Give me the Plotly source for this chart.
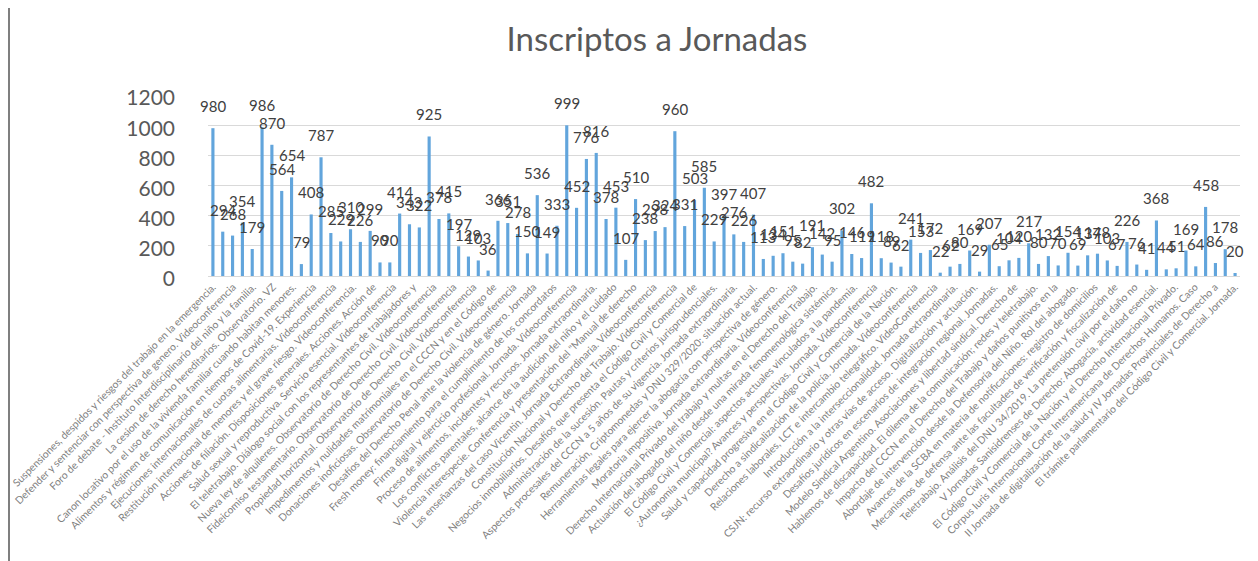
import plotly.graph_objects as go

# Inscriptos por jornada (en orden)
values = [
    980, 294, 268, 354, 179, 986, 870, 564, 654, 79,
    408, 787, 285, 229, 310, 226, 299, 90, 90, 414,
    343, 322, 925, 378, 415, 197, 129, 103, 36, 366,
    351, 278, 150, 536, 149, 333, 999, 452, 776, 816,
    378, 453, 107, 510, 238, 298, 324, 960, 331, 503,
    585, 229, 397, 276, 226, 407, 113, 134, 151, 95,
    82, 191, 142, 95, 302, 146, 119, 482, 118, 89,
    62, 241, 153, 172, 22, 62, 80, 169, 29, 207,
    65, 104, 120, 217, 80, 132, 70, 154, 69, 137,
    148, 103, 67, 226, 76, 41, 368, 44, 51, 169,
    64, 458, 86, 178, 20,
]

# Etiquetas visibles del eje de categorías (repartidas de la primera a la última jornada)
tick_labels = [
    "Suspensiones, despidos y riesgos del trabajo en la emergencia.",
    "Defender y sentenciar con perspectiva de genero. Videoconferencia",
    "Foro de debate - Instituto Interdisciplinario del niño y la familia.",
    "La cesion de derecho hereditarios. Observatorio. VZ",
    "Canon locativo por el uso de la vivienda familiar cuando habitan menores.",
    "Alimentos y régimen de comunicación en tiempos de Covid-19. Experiencia",
    "Ejecuciones internacionales de cuotas alimentarias. Videoconferencia",
    "Restitución internacional de menores y el grave riesgo. Videoconferencia.",
    "Acciones de filiación. Disposiciones generales. Acciones. Acción de",
    "Salud sexual y reproductiva. Servicio esencial. Videoconferencia",
    "El teletrabajo. Diálogo social con los representantes de trabajadores y",
    "Nueva ley de alquileres. Observatorio de Derecho Civil. Videoconferencia",
    "Fideicomiso testamentario. Observatorio de Derecho Civil. Videoconferencia",
    "Propiedad horizontal. Observatorio de Derecho Civil. Videoconferencia",
    "Impedimentos y nulidades matrimoniales en el CCCN y en el Código de",
    "Donaciones inoficiosas. Observatorio de Derecho Civil. Videoconferencia",
    "Desafíos del Derecho Penal ante la violencia de género. Jornada",
    "Fresh money: financiamiento para el cumplimiento de los concordatos",
    "Firma digital y ejercicio profesional. Jornada. Videoconferencia",
    "Proceso de alimentos, incidentes y recursos. Jornada extraordinaria.",
    "Los conflictos parentales, alcance de la audición del niño y el cuidado",
    "Violencia interespecie. Conferencia y presentación del \"Manual de derecho",
    "Las enseñanzas del caso Vicentin. Jornada Extraordinaria. Videoconferencia",
    "Constitución Nacional y Derecho del Trabajo. Videoconferencia",
    "Negocios inmobiliarios. Desafíos que presenta el Código Civil y Comercial de",
    "Administración de la sucesión. Pautas y criterios jurisprudenciales.",
    "Aspectos procesales del CCCN a 5 años de su vigencia. Jornada extraordinaria.",
    "Remuneración, Criptomonedas y DNU 329/2020: situación actual.",
    "Herramientas legales para ejercer la abogacía con perspectiva de género.",
    "Moratoria impositiva. Jornada extraordinaria. Videoconferencia",
    "Derecho Internacional Privado del trabajo y multas en el Derecho del Trabajo.",
    "Actuación del abogado del niño desde una mirada fenomenológica sistémica.",
    "El Código Civil y Comercial: aspectos actuales vinculados a la pandemia.",
    "¿Autonomía municipal? Avances y perspectivas. Jornada. Videoconferencia",
    "Salud y capacidad progresiva en el Código Civil y Comercial de la Nación.",
    "Derecho a sindicalización de la policía. Jornada. Videoconferencia",
    "Relaciones laborales, LCT e intercambio telegráfico. VideoConferencia",
    "Introducción a la interseccionalidad. Jornada extraordinaria.",
    "CSJN: recurso extraordinario y otras vías de acceso. Digitalización y actuación.",
    "Desafíos jurídicos en escenarios de integración regional. Jornadas.",
    "Modelo Sindical Argentino. Asociaciones y libertad sindical. Derecho de",
    "Hablemos de discapacidad. El dilema de la comunicación; redes y teletrabajo.",
    "Impacto del CCCN en el Derecho del Trabajo y daños punitivos en la",
    "Abordaje de intervención desde la Defensoría del Niño. Rol del abogado.",
    "Avances de la SCBA en materia de notificaciones: registro de domicilios",
    "Mecanismos de defensa ante las facultades de verificación y fiscalización de",
    "Teletrabajo. Análisis del DNU 34/2019. La pretensión civil por el daño no",
    "V Jornadas Sanisidrenses de Derecho: Abogacía, actividad esencial.",
    "El Código Civil y Comercial de la Nación y el Derecho Internacional Privado.",
    "Corpus Iuris Internacional Corte Interamericana de Derechos Humanos. Caso",
    "II Jornada de digitalización de la salud y IV Jornadas Provinciales de Derecho a",
    "El trámite parlamentario del Código Civil y Comercial. Jornada.",
]

y_ticks = [0, 200, 400, 600, 800, 1000, 1200]

n = len(values)
x = list(range(1, n + 1))
# las etiquetas visibles cubren de la primera a la última barra
step = (n - 1) / (len(tick_labels) - 1)
tickvals = [1 + i * step for i in range(len(tick_labels))]

# la página agrega 8 px de margen; la figura se dimensiona para compensarlo
W, H = 1250, 553
ML, MR, MT, MB = 200, 18, 87, 285

fig = go.Figure(
    go.Bar(
        x=x,
        y=values,
        width=0.32,
        marker=dict(color="#62A5DC", line=dict(width=0)),
        hoverinfo="x+y",
    )
)

# Etiquetas de datos sobre cada barra
for xi, v in zip(x, values):
    fig.add_annotation(
        x=xi, y=v, text=str(v), showarrow=False,
        xanchor="center", yanchor="bottom", yshift=11,
        font=dict(family="Lato", size=15, color="#404040"),
    )

pw = W - ML - MR
ph = H - MT - MB


def px_x(p):
    return (p - ML) / pw


def px_y(p):
    return 1 - (p - MT) / ph


fig.update_layout(
    width=W,
    height=H,
    autosize=False,
    margin=dict(l=ML, r=MR, t=MT, b=MB, pad=0),
    paper_bgcolor="white",
    plot_bgcolor="white",
    showlegend=False,
    title=dict(
        text="Inscriptos a Jornadas",
        x=649 / W,
        xanchor="center",
        xref="container",
        y=1 - 31 / H,
        yanchor="middle",
        yref="container",
        font=dict(family="Lato", size=33, color="#595959"),
    ),
    xaxis=dict(
        range=[0.5, n + 0.5],
        tickmode="array",
        tickvals=tickvals,
        ticktext=tick_labels,
        tickangle=-45,
        tickfont=dict(family="Lato", size=10.4, color="#7F7F7F"),
        ticklabeloverflow="allow",
        showgrid=False,
        showline=True,
        linecolor="#D9D9D9",
        linewidth=1,
        ticks="",
        automargin=False,
        zeroline=False,
    ),
    yaxis=dict(
        range=[0, 1200],
        tickmode="array",
        tickvals=y_ticks,
        ticktext=[str(v) for v in y_ticks],
        tickfont=dict(family="Lato", size=21, color="#595959"),
        showgrid=True,
        gridcolor="#D9D9D9",
        gridwidth=1,
        zeroline=False,
        showline=False,
        ticks="",
        ticklabelstandoff=32,
        ticklabelshift=3,
        automargin=False,
    ),
    shapes=[
        dict(
            type="line", xref="paper", yref="paper",
            x0=px_x(1), x1=px_x(1), y0=px_y(0), y1=px_y(H),
            line=dict(color="#7F7F7F", width=2),
        ),
        dict(
            type="line", xref="paper", yref="paper",
            x0=px_x(W - 6), x1=px_x(W - 6), y0=px_y(0), y1=px_y(H),
            line=dict(color="#D9D9D9", width=1),
        ),
    ],
)

fig.write_html("out.html")
